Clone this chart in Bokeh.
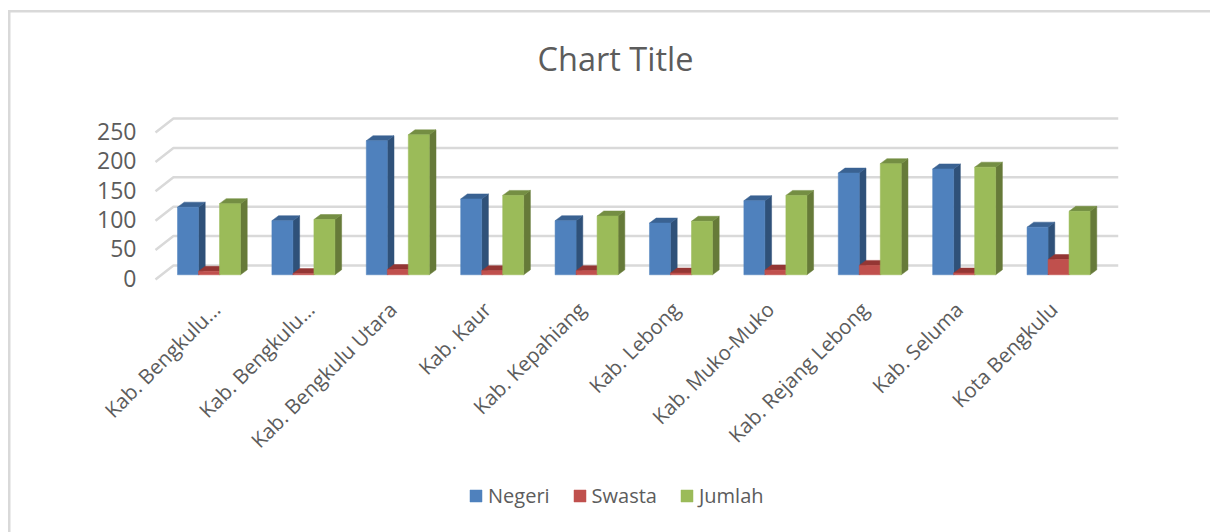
from bokeh.plotting import figure
from bokeh.embed import file_html
from bokeh.resources import INLINE
from bokeh.models import (Range1d, FixedTicker, LinearAxis, Legend, LegendItem,
                          ColumnDataSource)

categories = ["Kab. Bengkulu...", "Kab. Bengkulu...", "Kab. Bengkulu Utara", "Kab. Kaur",
              "Kab. Kepahiang", "Kab. Lebong", "Kab. Muko-Muko", "Kab. Rejang Lebong",
              "Kab. Seluma", "Kota Bengkulu"]
negeri = [115, 92, 228, 129, 92, 88, 126, 173, 180, 81]
swasta = [6, 2, 9, 7, 7, 3, 8, 16, 3, 26]
jumlah = [121, 94, 238, 135, 100, 91, 135, 189, 183, 108]
y_ticks = [0, 50, 100, 150, 200, 250]
label_nudge = [0.075, 0.075, -0.055, -0.055, -0.055, -0.055, -0.055, -0.055, -0.055, -0.055]

FONT = "Open Sans"
GREY = "#5c5c5c"
BORDER = "#d9d9d9"
BAR_W = 0.2225
DX, DY = 0.071, 8.5          # extrusion depth in data units
WALL_DX, WALL_DY = 0.19, 23.8
FLOOR = -8.0
Y_MIN, Y_MAX = -438.3, 279.4  # frame runs to the page edges so labels and legend fit inside
X_MIN, X_MAX = -1.709, 10.135
PLOT_LEFT = -0.067

p = figure(width=1210, height=532, output_backend="svg", toolbar_location=None,
           x_range=Range1d(X_MIN, X_MAX), y_range=Range1d(Y_MIN, Y_MAX),
           min_border_left=0, min_border_right=92, min_border_top=110, min_border_bottom=0,
           title="Chart Title", x_axis_location=None, y_axis_location=None,
           border_fill_color=None, background_fill_color=None,
           styles={"background":
                   f"linear-gradient({BORDER},{BORDER}) 8px 10px / 100% 2.5px no-repeat,"
                   f"linear-gradient({BORDER},{BORDER}) 7.5px 10px / 2.5px 100% no-repeat"})
p.outline_line_color = None
p.grid.visible = False
p.title.align = "left"
p.title.offset = 537
p.title.standoff = 59
p.title.text_font = FONT
p.title.text_font_style = "normal"
p.title.text_font_size = "32.5px"
p.title.text_color = GREY

# axes
p.extra_y_ranges = {"labels": Range1d(Y_MIN + 6, Y_MAX + 6)}
yaxis = LinearAxis(y_range_name="labels", ticker=FixedTicker(ticks=y_ticks), fixed_location=PLOT_LEFT,
                   axis_line_color=None, major_tick_line_color=None, minor_tick_line_color=None,
                   major_label_text_font=FONT, major_label_text_font_size="23px",
                   major_label_text_color=GREY, major_label_standoff=13)
p.add_layout(yaxis, "left")
centers = [i + 0.5 for i in range(len(categories))]
label_pos = [c + n for c, n in zip(centers, label_nudge)]
xaxis = LinearAxis(ticker=FixedTicker(ticks=label_pos), fixed_location=FLOOR,
                   major_label_overrides=dict(zip(label_pos, categories)),
                   axis_line_color=None, major_tick_line_color=None, minor_tick_line_color=None,
                   major_label_text_font=FONT, major_label_text_font_size="20.5px",
                   major_label_text_color=GREY, major_label_orientation=0.785398,
                   major_label_standoff=20)
p.add_layout(xaxis, "below")

# gridlines on floor edge and back wall
p.multi_line([[PLOT_LEFT, PLOT_LEFT + WALL_DX, X_MAX] for _ in y_ticks],
             [[v + FLOOR, v + FLOOR + WALL_DY, v + FLOOR + WALL_DY] for v in y_ticks],
             line_color=BORDER, line_width=2.5)

series = [("Negeri", negeri, -1, "#4F81BD", "#2F5179", "#3A6292"),
          ("Swasta", swasta, 0, "#C0504D", "#8C3836", "#943634"),
          ("Jumlah", jumlah, 1, "#9BBB59", "#667A39", "#748E43")]
items = []
for name, vals, off, front, side, top in series:
    xs = [c + off * BAR_W for c in centers]
    right = [x + BAR_W / 2 for x in xs]
    left = [x - BAR_W / 2 for x in xs]
    p.patches([[r, r + DX, r + DX, r] for r in right],
              [[0, DY, v + DY, v] for v in vals], fill_color=side, line_color=side, line_width=0.5)
    p.patches([[l, l + DX, r + DX, r] for l, r in zip(left, right)],
              [[v, v + DY, v + DY, v] for v in vals], fill_color=top, line_color=top, line_width=0.5)
    src = ColumnDataSource(dict(x=xs, top=vals))
    g = p.vbar(x="x", width=BAR_W, bottom=0, top="top", source=src,
               fill_color=front, line_color=front, line_width=0.5)
    items.append(LegendItem(label=name, renderers=[g]))

legend = Legend(items=items, orientation="horizontal", location=(468, 23),
                border_line_color=None, background_fill_alpha=0,
                label_text_font=FONT, label_text_font_size="20px", label_text_color=GREY,
                glyph_width=15, glyph_height=15, spacing=22, label_standoff=5, padding=0, margin=0)
p.add_layout(legend, "center")

open("out.html", "w").write(file_html(p, INLINE))
